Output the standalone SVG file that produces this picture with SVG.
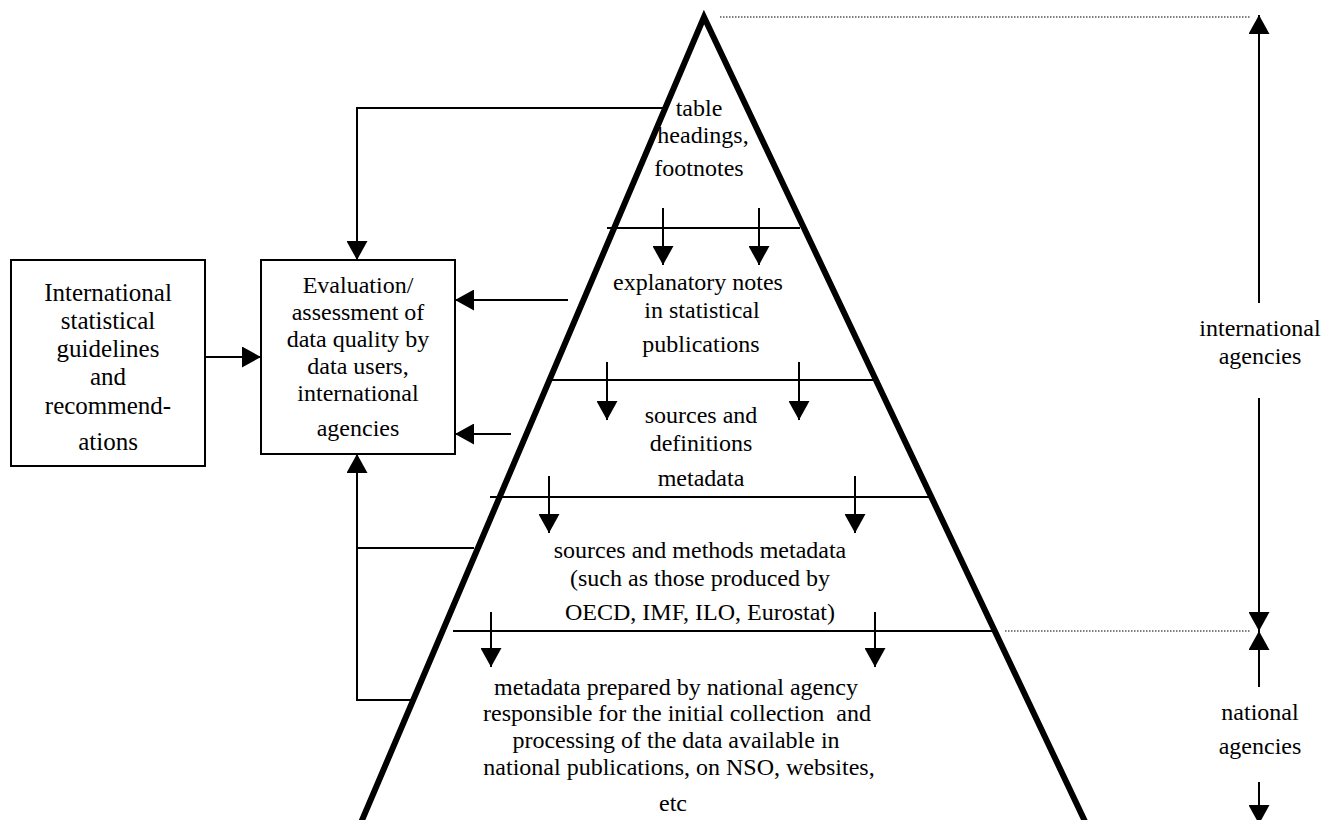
<svg xmlns="http://www.w3.org/2000/svg" width="1327" height="820" viewBox="0 0 1327 820">
<style>
  text { font-family: "Liberation Serif", "Times New Roman", serif; fill: #000; text-anchor: middle; }
  .box { fill: #fff; stroke: #000; stroke-width: 2; }
  .b1 { font-size: 25px; }
  .b2 { font-size: 24px; }
  .py { font-size: 24px; }
  .rl { font-size: 24px; }
  .ln { stroke: #000; stroke-width: 2; fill: none; }
  .arr { stroke: #000; stroke-width: 2; fill: none; marker-end: url(#ah); }
  .dot { stroke: #000; stroke-width: 1.2; stroke-dasharray: 1.5 1.5; fill: none; }
  .pyr { stroke: #000; stroke-width: 6; fill: none; stroke-linejoin: miter; stroke-miterlimit: 10; }
</style>
<defs>
  <marker id="ah" viewBox="0 0 10 10" refX="10" refY="5" markerWidth="19" markerHeight="21" markerUnits="userSpaceOnUse" orient="auto" preserveAspectRatio="none">
    <path d="M0,0 L10,5 L0,10 Z" fill="#000"/>
  </marker>
</defs>
<rect width="1327" height="820" fill="#fff"/>

<g id="guidelines">
  <rect class="box" x="11" y="260" width="194" height="206"/>
  <text class="b1" x="108" y="301">International</text>
  <text class="b1" x="108" y="329">statistical</text>
  <text class="b1" x="108" y="357">guidelines</text>
  <text class="b1" x="108" y="385">and</text>
  <text class="b1" x="108" y="414">recommend-</text>
  <text class="b1" x="108" y="450">ations</text>
</g>

<g id="evaluation">
  <rect class="box" x="261" y="260" width="194" height="194"/>
  <text class="b2" x="358" y="293">Evaluation/</text>
  <text class="b2" x="358" y="320">assessment of</text>
  <text class="b2" x="358" y="347">data quality by</text>
  <text class="b2" x="358" y="374">data users,</text>
  <text class="b2" x="358" y="401">international</text>
  <text class="b2" x="358" y="436">agencies</text>
</g>

<g id="level1">
  <text class="py" x="699" y="116">table</text>
  <text class="py" x="703" y="143">headings,</text>
  <text class="py" x="699" y="176">footnotes</text>
</g>
<g id="level2">
  <text class="py" x="698" y="290">explanatory notes</text>
  <text class="py" x="702" y="318">in statistical</text>
  <text class="py" x="701" y="352">publications</text>
</g>
<g id="level3">
  <text class="py" x="701" y="423">sources and</text>
  <text class="py" x="701" y="451">definitions</text>
  <text class="py" x="701" y="486">metadata</text>
</g>
<g id="level4">
  <text class="py" x="700" y="558">sources and methods metadata</text>
  <text class="py" x="700" y="586">(such as those produced by</text>
  <text class="py" x="700" y="620">OECD, IMF, ILO, Eurostat)</text>
</g>
<g id="level5">
  <text class="py" x="676" y="695">metadata prepared by national agency</text>
  <text class="py" x="677" y="721">responsible for the initial collection&#160; and</text>
  <text class="py" x="676" y="748">processing of the data available in</text>
  <text class="py" x="679" y="775">national publications, on NSO, websites,</text>
  <text class="py" x="673" y="811">etc</text>
</g>

<g id="pyramid">
  <polyline class="pyr" points="357,832 704,17 1090,832"/>
</g>

<g id="connectors">
  <line class="ln" x1="607" y1="228" x2="800" y2="228"/>
  <line class="ln" x1="550" y1="380" x2="873" y2="380"/>
  <line class="ln" x1="490" y1="497" x2="932" y2="497"/>
  <line class="ln" x1="453" y1="631" x2="994" y2="631"/>
  <line class="arr" x1="663" y1="208" x2="663" y2="265"/>
  <line class="arr" x1="759" y1="208" x2="759" y2="265"/>
  <line class="arr" x1="607" y1="362" x2="607" y2="420"/>
  <line class="arr" x1="799" y1="362" x2="799" y2="420"/>
  <line class="arr" x1="549" y1="476" x2="549" y2="533"/>
  <line class="arr" x1="855" y1="476" x2="855" y2="533"/>
  <line class="arr" x1="491" y1="612" x2="491" y2="667"/>
  <line class="arr" x1="875" y1="612" x2="875" y2="667"/>
  <polyline class="arr" points="664,108 357,108 357,260"/>
  <line class="arr" x1="568" y1="300" x2="455" y2="300"/>
  <line class="arr" x1="511" y1="434" x2="455" y2="434"/>
  <polyline class="arr" points="412,700 357,700 357,454"/>
  <line class="ln" x1="357" y1="548" x2="474" y2="548"/>
  <line class="arr" x1="205" y1="357" x2="261" y2="357"/>
  <line class="dot" x1="720" y1="17" x2="1250" y2="17"/>
  <line class="dot" x1="1005" y1="631" x2="1250" y2="631"/>
  <line class="arr" x1="1259" y1="303" x2="1259" y2="15"/>
  <line class="arr" x1="1259" y1="398" x2="1259" y2="631"/>
  <line class="arr" x1="1259" y1="687" x2="1259" y2="631"/>
  <line class="arr" x1="1259" y1="782" x2="1259" y2="824"/>
</g>

<g id="label-international">
  <text class="rl" x="1260" y="336">international</text>
  <text class="rl" x="1260" y="364">agencies</text>
</g>
<g id="label-national">
  <text class="rl" x="1260" y="720">national</text>
  <text class="rl" x="1260" y="754">agencies</text>
</g>
</svg>
